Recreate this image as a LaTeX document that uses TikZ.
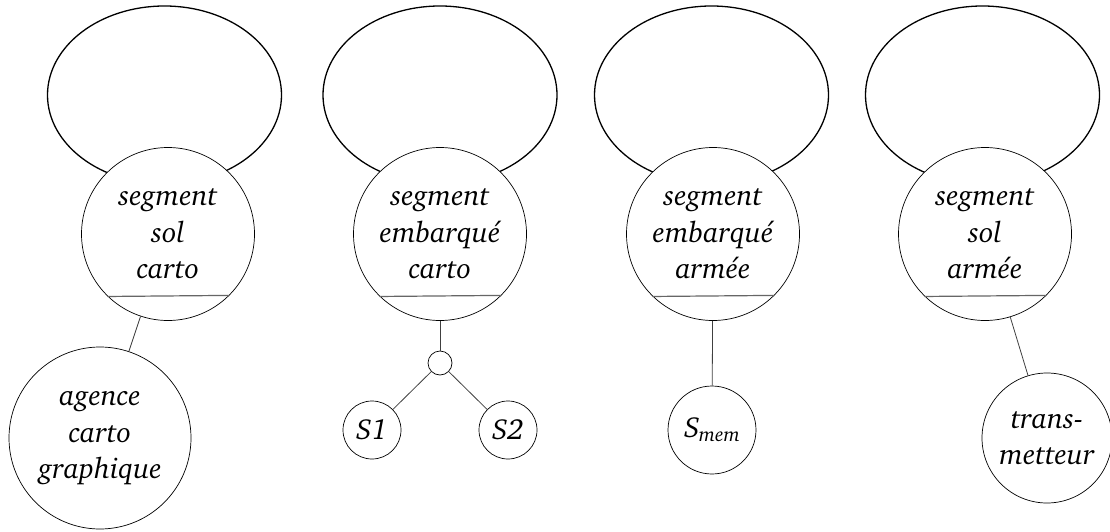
\documentclass[tikz,border=0pt]{standalone}
\usepackage[T1]{fontenc}
\usepackage{charter}
\usetikzlibrary{shapes.geometric}
\tikzset{
  bigell/.style={draw, ellipse, line width=1.3pt, minimum width=234pt, minimum height=178pt, inner sep=0pt},
  segcirc/.style={draw, circle, fill=white, line width=0.7pt, minimum size=173pt, inner sep=0pt, align=center,
     font=\fontsize{29}{36.5}\selectfont\itshape},
  leafcirc/.style={draw, circle, fill=white, line width=0.7pt, inner sep=0pt, align=center,
     font=\fontsize{29}{36.5}\selectfont\itshape},
  chord/.style={draw=black!60, line width=1.2pt},
  conn/.style={draw=black!75, line width=0.8pt},
}
\begin{document}
\begin{tikzpicture}[x=1pt, y=-1pt]
\useasboundingbox (0,0) rectangle (1110,532);
% ellipses
\node[bigell] (e1) at (164.5,95) {};
\node[bigell] (e2) at (440,95) {};
\node[bigell] (e3) at (711.5,95) {};
\node[bigell] (e4) at (982.5,95) {};
% segment circles
\node[segcirc] (c1) at (168,234) {segment\\sol\\carto};
\node[segcirc] (c2) at (440,234) {segment\\embarqué\\carto};
\node[segcirc] (c3) at (713,234) {segment\\embarqué\\armée};
\node[segcirc] (c4) at (985,234) {segment\\sol\\armée};
% chords
\foreach \c in {c1,c2,c3,c4}{
  \draw[chord] (\c.-134.6) -- (\c.-45.4);
}
% leaves
\node[leafcirc, minimum size=182pt] (ag) at (100,438) {agence\\carto\\graphique};
\node[draw, circle, fill=white, line width=0.7pt, minimum size=24pt, inner sep=0pt] (j2) at (440,363) {};
\node[leafcirc, minimum size=58pt] (s1) at (372,430) {S1};
\node[leafcirc, minimum size=58pt] (s2) at (508,430) {S2};
\node[leafcirc, minimum size=88pt] (sm) at (712,430) {S\kern-1pt\raisebox{-0.28ex}{\fontsize{20}{20}\selectfont mem}};
\node[leafcirc, minimum size=130pt] (tr) at (1047,438) {trans-\\metteur};
% connectors
\draw[conn] (c1) -- (ag);
\draw[conn] (c2) -- (j2);
\draw[conn] (j2) -- (s1);
\draw[conn] (j2) -- (s2);
\draw[conn] (c3) -- (sm);
\draw[conn] (c4) -- (tr);
\end{tikzpicture}
\end{document}
